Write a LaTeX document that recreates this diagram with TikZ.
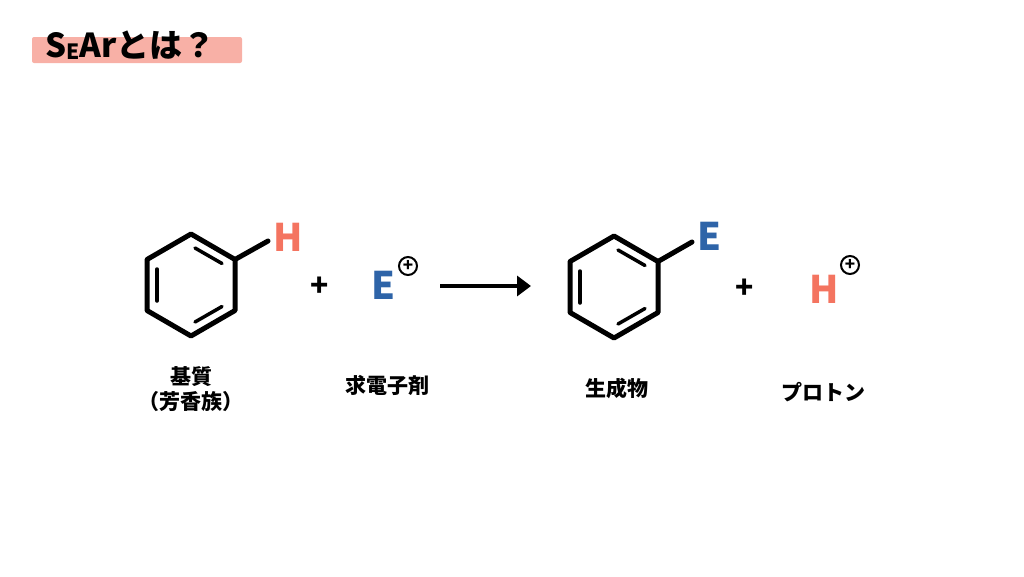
\documentclass[tikz,border=0pt]{standalone}
\usepackage{fontspec}
\setmainfont{Noto Sans CJK JP}
\usetikzlibrary{arrows.meta}
\definecolor{hred}{HTML}{F47460}
\definecolor{eblue}{HTML}{2E64A8}
\definecolor{hl}{HTML}{F8B0A6}
\tikzset{bond/.style={line width=5pt,line cap=round,line join=round},
ibond/.style={line width=3.5pt,line cap=round},
atom/.style={font=\bfseries\fontsize{38}{38}\selectfont,inner sep=0pt},
lbl/.style={font=\bfseries\fontsize{21}{25}\selectfont,align=center,inner sep=0pt},
plus/.style={font=\bfseries\fontsize{30}{30}\selectfont,inner sep=0pt},
chg/.style={circle,draw,line width=2pt,minimum size=18pt,inner sep=0pt,font=\bfseries\fontsize{17}{17}\selectfont}}
\newcommand{\benz}[3]{%
\begin{scope}[shift={(#1,#2)}]
\coordinate (#3a) at (0,-51); \coordinate (#3b) at (44,-25.5); \coordinate (#3c) at (44,25.5);
\coordinate (#3d) at (0,51); \coordinate (#3e) at (-44,25.5); \coordinate (#3f) at (-44,-25.5);
\draw[bond] (#3a)--(#3b)--(#3c)--(#3d)--(#3e)--(#3f)--cycle;
\draw[ibond] (4,-37)--(31,-21.5);
\draw[ibond] (31,21.5)--(4,37);
\draw[ibond] (-34,-16)--(-34,16);
\end{scope}}
\begin{document}
\begin{tikzpicture}[x=1pt,y=-1pt]
\useasboundingbox (0,0) rectangle (1024,576);
\fill[hl,rounded corners=2pt] (32,37) rectangle (242,63);
\node[anchor=west,inner sep=0pt,font=\bfseries\fontsize{33}{33}\selectfont] (title) at (45,45) {S\raisebox{-2pt}{\fontsize{21}{21}\selectfont E}Arとは？};
\benz{191}{285}{p}
\node[atom,text=hred] (h1) at (288,237) {H};
\draw[bond] (pb)--(268,241);
\node[plus] (pl1) at (320,287) {+};
\node[atom,text=eblue] (e1) at (383,285) {E};
\node[chg] (c1) at (408,266) {+};
\draw[line width=4.5pt,-{Triangle[length=14pt,width=20pt]}] (440,286) coordinate (as) -- (531,286) coordinate (ae);
\benz{614}{287}{q}
\draw[bond] (qb)--(692,242);
\node[atom,text=eblue] (e2) at (709,236) {E};
\node[plus] (pl2) at (745,289) {+};
\node[atom,text=hred] (h2) at (824,289) {H};
\node[chg] (c2) at (850,265) {+};
\node[lbl] (l1) at (191,389) {基質\\（芳香族）};
\node[lbl] (l2) at (387,385) {求電子剤};
\node[lbl] (l3) at (617,388) {生成物};
\node[lbl] (l4) at (823,392) {プロトン};
\end{tikzpicture}
\end{document}
